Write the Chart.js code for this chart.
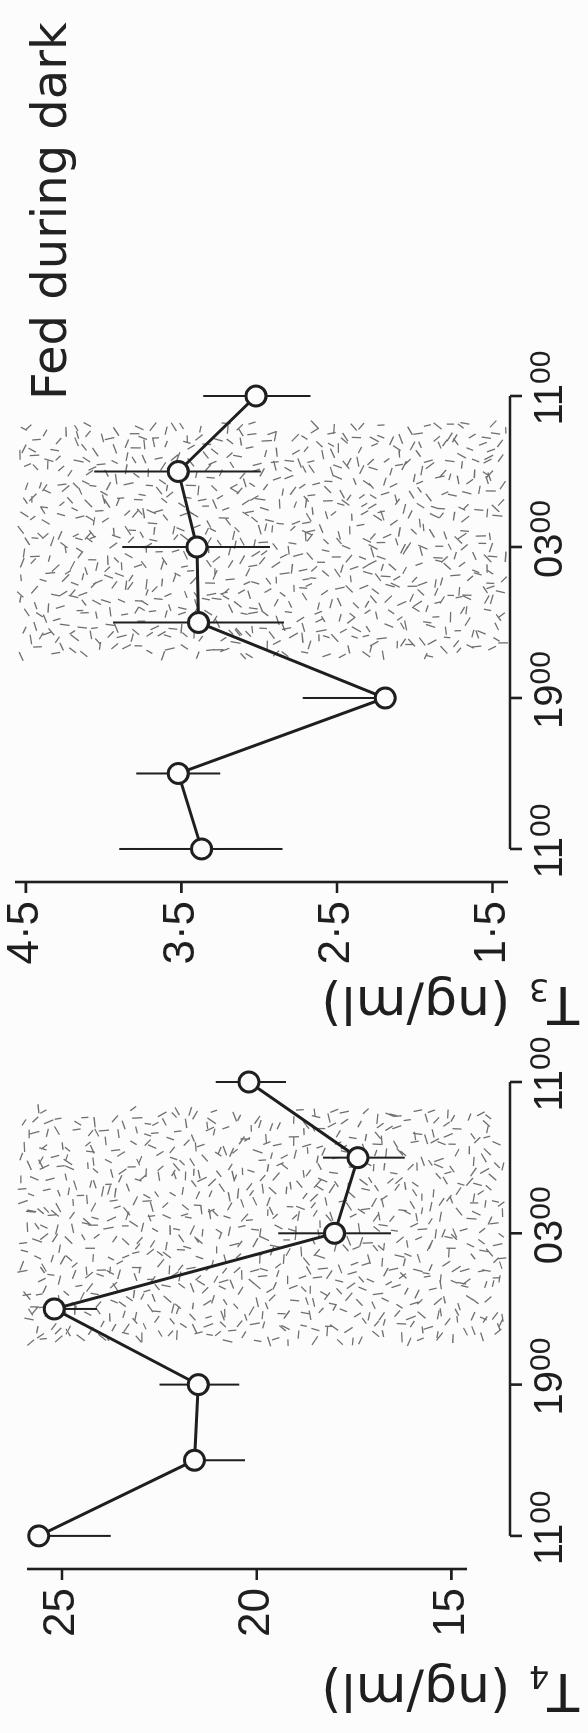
<!DOCTYPE html>
<html>
<head>
<meta charset="utf-8">
<script src="https://cdn.jsdelivr.net/npm/chart.js@4.4.1/dist/chart.umd.min.js"></script>
<style>
  html, body { margin: 0; padding: 0; background: #fcfcfc; overflow: hidden; }
  body { width: 588px; height: 1733px; position: relative; }
  /* the figure is laid out landscape, then turned a quarter turn anticlockwise */
  #figure { position: absolute; left: 0; top: 1733px; width: 1733px; height: 588px;
            transform-origin: 0 0; transform: rotate(-90deg); }
  #figure canvas { position: absolute; left: 0; top: 0; }
  #title { position: absolute; left: 1333px; top: 25px; font: 48px "DejaVu Sans";
           line-height: 48px; color: #222; white-space: nowrap; }
</style>
</head>
<body>
<div id="figure">
  <canvas id="t4Chart" width="1733" height="588"></canvas>
  <canvas id="t3Chart" width="1733" height="588"></canvas>
  <div id="title">Fed during dark</div>
</div>
<script>
// sampling times, hours after 1100
const sampleHours = [0, 4, 8, 12, 16, 20, 24];
const timeTicks = [0, 8, 16, 24];
const timeTickLabels = ["1100", "1900", "0300", "1100"];
// dark period (hours after 1100)
const darkStart = 10.2;
const darkEnd = 22.6;

// T4 (ng/ml): mean, lower and upper end of error bar
const t4Mean = [25.6, 21.6, 21.5, 25.2, 18.0, 17.4, 20.2];
const t4Low = [23.75, 20.3, 20.45, 24.1, 16.55, 16.2, 19.25];
const t4High = [25.6, 21.6, 22.5, 25.2, 19.45, 18.3, 21.05];
const t4Ticks = [25, 20, 15];
const t4TickLabels = ["25", "20", "15"];
const t4AxisTitle = ["T", "4", " (ng/ml)"];

// T3 (ng/ml)
const t3Mean = [3.37, 3.52, 2.19, 3.39, 3.40, 3.52, 3.02];
const t3Low = [2.85, 3.25, 2.19, 2.84, 2.93, 2.99, 2.67];
const t3High = [3.90, 3.79, 2.72, 3.94, 3.88, 4.06, 3.36];
const t3Ticks = [4.5, 3.5, 2.5, 1.5];
const t3TickLabels = ["4·5", "3·5", "2·5", "1·5"];
const t3AxisTitle = ["T", "3", " (ng/ml)"];

const ink = "#1f1f1f";
const paper = "#fcfcfc";

// deterministic generator for the stipple texture only
function stippleRandom(seed) {
  let s = seed;
  return () => { s = (s * 16807) % 2147483647; return (s - 1) / 2147483646; };
}

// stippled band for the dark period
const darkShading = {
  id: "darkShading",
  beforeDatasetsDraw(chart, args, opts) {
    const { ctx, scales: { x } } = chart;
    const left = x.getPixelForValue(darkStart);
    const right = x.getPixelForValue(darkEnd);
    const rand = stippleRandom(opts.seed);
    const step = 12;
    ctx.save();
    ctx.strokeStyle = "rgba(75,75,75,0.8)";
    ctx.lineWidth = 1.3;
    ctx.beginPath();
    for (let yy = opts.top; yy < opts.bottom; yy += step) {
      for (let xx = left; xx < right; xx += step) {
        const cx = xx + rand() * step, cy = yy + rand() * step;
        const a = rand() * Math.PI, len = 6.5 + rand() * 4;
        if (cx > right || cy > opts.bottom) continue;
        ctx.moveTo(cx - Math.cos(a) * len / 2, cy - Math.sin(a) * len / 2);
        ctx.lineTo(cx + Math.cos(a) * len / 2, cy + Math.sin(a) * len / 2);
      }
    }
    ctx.stroke();
    ctx.restore();
  }
};

// vertical error bars, drawn under the open circles
const errorBars = {
  id: "errorBars",
  beforeDatasetsDraw(chart, args, opts) {
    const { ctx, scales: { x, y } } = chart;
    ctx.save();
    ctx.strokeStyle = ink;
    ctx.lineWidth = 2;
    ctx.beginPath();
    opts.low.forEach((lo, i) => {
      const px = x.getPixelForValue(sampleHours[i]);
      ctx.moveTo(px, y.getPixelForValue(lo));
      ctx.lineTo(px, y.getPixelForValue(opts.high[i]));
    });
    ctx.stroke();
    ctx.restore();
  }
};

// old style detached axes, drawn from the chart scales
const paperAxes = {
  id: "paperAxes",
  afterDraw(chart, args, opts) {
    const { ctx, chartArea, scales: { x, y } } = chart;
    ctx.save();
    ctx.strokeStyle = ink;
    ctx.fillStyle = ink;
    ctx.lineWidth = 2.6;

    const ax = chartArea.left;
    const ty = chartArea.bottom + opts.timeAxisGap;
    ctx.beginPath();
    ctx.moveTo(ax, chartArea.top);
    ctx.lineTo(ax, chartArea.bottom);
    opts.ticks.forEach(v => {
      const py = y.getPixelForValue(v);
      ctx.moveTo(ax, py);
      ctx.lineTo(ax - 11, py);
    });
    ctx.moveTo(x.getPixelForValue(timeTicks[0]), ty);
    ctx.lineTo(x.getPixelForValue(timeTicks[timeTicks.length - 1]), ty);
    timeTicks.forEach(t => {
      const px = x.getPixelForValue(t);
      ctx.moveTo(px, ty);
      ctx.lineTo(px, ty + 12);
    });
    ctx.stroke();

    // value tick labels
    ctx.font = '44px "Liberation Sans"';
    ctx.textAlign = "right";
    ctx.textBaseline = "middle";
    opts.ticks.forEach((v, i) => ctx.fillText(opts.tickLabels[i], ax - 19, y.getPixelForValue(v)));

    // clock labels: hours full size, minutes raised
    ctx.textAlign = "left";
    ctx.textBaseline = "alphabetic";
    timeTicks.forEach((t, i) => {
      const hh = timeTickLabels[i].slice(0, 2), mm = timeTickLabels[i].slice(2);
      ctx.font = '40px "Liberation Sans"';
      const wH = ctx.measureText(hh).width;
      ctx.font = '30px "Liberation Sans"';
      const wM = ctx.measureText(mm).width;
      const start = x.getPixelForValue(t) + 8 - (wH + wM) / 2;
      const base = ty + 52;
      ctx.font = '40px "Liberation Sans"';
      ctx.fillText(hh, start, base);
      ctx.font = '30px "Liberation Sans"';
      ctx.fillText(mm, start + wH, base - 12);
    });

    // axis title with subscript, reading upwards
    const [main, sub, rest] = opts.title;
    ctx.font = '52px "DejaVu Sans"';
    const w1 = ctx.measureText(main).width, w3 = ctx.measureText(rest).width;
    ctx.font = '32px "DejaVu Sans"';
    const w2 = ctx.measureText(sub).width;
    ctx.translate(ax - 105, opts.titleCenter);
    ctx.rotate(-Math.PI / 2);
    let cx = -(w1 + w2 + w3) / 2;
    ctx.font = '52px "DejaVu Sans"';
    ctx.fillText(main, cx, 0);
    cx += w1;
    ctx.font = '32px "DejaVu Sans"';
    ctx.fillText(sub, cx - 2, 8);
    cx += w2;
    ctx.font = '52px "DejaVu Sans"';
    ctx.fillText(rest, cx, 0);
    ctx.restore();
  }
};

function makePanel(canvasId, mean, low, high, yMin, yMax, padding, extra) {
  return new Chart(document.getElementById(canvasId), {
    type: "line",
    data: {
      datasets: [{
        data: sampleHours.map((h, i) => ({ x: h, y: mean[i] })),
        borderColor: ink,
        borderWidth: 3,
        tension: 0,
        pointRadius: 10,
        pointBackgroundColor: paper,
        pointBorderColor: ink,
        pointBorderWidth: 3,
        clip: false
      }]
    },
    options: {
      responsive: false,
      animation: false,
      events: [],
      layout: { padding },
      plugins: {
        legend: { display: false },
        tooltip: { enabled: false },
        darkShading: extra.shade,
        errorBars: { low, high },
        paperAxes: extra.axes
      },
      scales: {
        x: { type: "linear", min: -1.75, max: 24, display: false },
        y: { type: "linear", min: yMin, max: yMax, display: false }
      }
    },
    plugins: [darkShading, errorBars, paperAxes]
  });
}

makePanel("t4Chart", t4Mean, t4Low, t4High, 14.6, 25.9,
  { left: 164, right: 1082, top: 27, bottom: 121 },
  {
    shade: { top: 19, bottom: 504, seed: 4242 },
    axes: { ticks: t4Ticks, tickLabels: t4TickLabels, title: t4AxisTitle, timeAxisGap: 43, titleCenter: 450 }
  });

makePanel("t3Chart", t3Mean, t3Low, t3High, 1.40, 4.57,
  { left: 851, right: 396, top: 15, bottom: 80 },
  {
    shade: { top: 20, bottom: 506, seed: 913 },
    axes: { ticks: t3Ticks, tickLabels: t3TickLabels, title: t3AxisTitle, timeAxisGap: 2, titleCenter: 450 }
  });
</script>
</body>
</html>
